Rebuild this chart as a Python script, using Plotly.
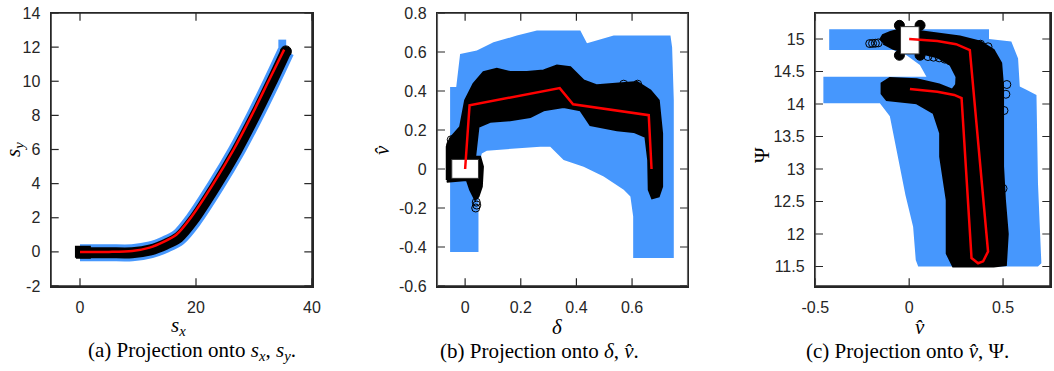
import plotly.graph_objects as go

W, H = 1054, 371
BLUE = "#4697fd"
RED = "#ff0000"
AX = "#262626"

# ---------------- Panel (a): s_x vs s_y ----------------
a_red_x = [0, 5, 9.0, 12.0, 14.5, 16.6, 19.1, 23.0, 26.5, 29.6, 32.5, 35.2]
a_red_y = [0, 0, 0.05, 0.25, 0.6, 1.0, 2.0, 4.0, 6.0, 8.0, 10.0, 11.85]
a_band_x = [0, 5, 9.0, 12.2, 14.8, 17.0, 19.5, 23.45, 26.95, 30.05, 32.95, 35.5]
a_band_y = [-0.05, -0.05, -0.05, 0.12, 0.45, 0.85, 1.85, 3.9, 5.9, 7.9, 9.9, 11.75]
a_start_x = [-0.7, 1.7, 1.7, -0.7, -0.7]
a_start_y = [-0.35, -0.35, 0.3, 0.3, -0.35]
a_end_x = [34.2, 35.55, 35.55, 34.2, 34.2]
a_end_y = [11.1, 11.1, 12.44, 12.44, 11.1]
a_xrange = [-5, 40]
a_yrange = [-2, 14]
a_xticks = [0, 20, 40]
a_yticks = [-2, 0, 2, 4, 6, 8, 10, 12, 14]

# ---------------- Panel (b): delta vs v-hat ----------------
b_blue_x = [-0.054, -0.054, -0.032, -0.018, 0.042, 0.102, 0.186, 0.258, 0.306, 0.414, 0.438,
            0.534, 0.738, 0.744, 0.75, 0.75, 0.604, 0.604, 0.594, 0.57, 0.498, 0.426, 0.354,
            0.306, 0.27, 0.078, 0.06, 0.048, 0.048]
b_blue_y = [-0.426, 0.42, 0.42, 0.59, 0.608, 0.65, 0.684, 0.71, 0.71, 0.71, 0.645,
            0.684, 0.684, 0.625, 0.352, -0.456, -0.456, -0.243, -0.141, -0.107, -0.039, 0.012, 0.046,
            0.114, 0.114, 0.094, 0.08, 0.012, -0.426]
b_black_x = [-0.066, -0.066, -0.054, -0.018, 0.0, 0.03, 0.066, 0.114, 0.162, 0.222, 0.282, 0.33,
             0.378, 0.426, 0.474, 0.546, 0.618, 0.666, 0.696, 0.708, 0.708, 0.696, 0.672, 0.66,
             0.658, 0.648, 0.606, 0.546, 0.45, 0.414, 0.354, 0.282, 0.234, 0.162, 0.09, 0.048,
             0.036, 0.054, 0.064, 0.06, 0.048, 0.036, 0.018, 0.006, -0.066]
b_black_y = [-0.056, 0.114, 0.157, 0.216, 0.352, 0.437, 0.497, 0.514, 0.497, 0.497, 0.505, 0.531,
             0.522, 0.454, 0.429, 0.437, 0.446, 0.403, 0.352, 0.182, -0.09, -0.141, -0.15, -0.107,
             0.046, 0.165, 0.19, 0.199, 0.225, 0.301, 0.318, 0.301, 0.267, 0.25, 0.242, 0.216,
             0.063, 0.063, 0.012, -0.09, -0.141, -0.158, -0.107, -0.056, -0.065]
b_circ_x = [-0.05, -0.052, -0.048, 0.04, 0.038, 0.042, 0.57, 0.62]
b_circ_y = [0.15, 0.125, 0.1, -0.17, -0.2, -0.185, 0.435, 0.435]
b_box_x = [-0.048, 0.048, 0.048, -0.048, -0.048]
b_box_y = [-0.048, -0.048, 0.049, 0.049, -0.048]
b_red_x = [0.0, 0.016, 0.34, 0.388, 0.66, 0.67]
b_red_y = [0.0, 0.327, 0.415, 0.332, 0.276, 0.0]
b_xrange = [-0.1, 0.8]
b_yrange = [-0.6, 0.8]
b_xticks = [0, 0.2, 0.4, 0.6]
b_yticks = [-0.6, -0.4, -0.2, 0, 0.2, 0.4, 0.6, 0.8]

# ---------------- Panel (c): v-hat vs Psi ----------------
c_blue_x = [-0.426, 0.425, 0.425, 0.544, 0.58, 0.589, 0.624, 0.678, 0.686, 0.704, 0.686,
            0.048, 0.035, 0.021, -0.02, -0.05, -0.08, -0.103, -0.156, -0.457, -0.457, 0.092,
            0.057, -0.014, -0.085, -0.426]
c_blue_y = [15.149, 15.149, 15.0, 14.96, 14.70, 14.27, 14.22, 14.14, 12.78, 11.55, 11.5,
            11.5, 11.6, 12.11, 12.6, 13.04, 13.5, 13.81, 14.01, 14.01, 14.42, 14.42,
            14.6, 14.75, 14.83, 14.83]
c_black_x = [-0.156, -0.14, -0.1, -0.06, 0.06, 0.13, 0.27, 0.38, 0.45, 0.49, 0.5, 0.5, 0.51,
             0.525, 0.515, 0.45, 0.234, 0.2, 0.2, 0.165, 0.165, 0.13, 0.04, -0.12, -0.147,
             -0.147, -0.103, 0.04, 0.16, 0.23, 0.25, 0.252, 0.22, 0.15, 0.09, -0.014, -0.085,
             -0.138]
c_black_y = [14.985, 15.06, 15.11, 15.14, 15.12, 15.09, 15.04, 14.96, 14.83, 14.63, 14.27,
             13.04, 12.52, 12.0, 11.52, 11.5, 11.5, 11.7, 12.52, 13.19, 13.55, 13.86, 14.01,
             14.06, 14.16, 14.32, 14.4, 14.38, 14.3, 14.22, 14.3, 14.42, 14.6, 14.72, 14.76,
             14.8, 14.85, 14.93]
c_circ_x = [-0.21, -0.195, -0.18, -0.165, 0.1, 0.13, 0.16, 0.19, 0.22, 0.52, 0.515, 0.505,
            0.5, 0.38, 0.42]
c_circ_y = [14.93, 14.932, 14.935, 14.94, 14.73, 14.72, 14.71, 14.69, 14.66, 14.3, 14.15,
            13.9, 12.7, 14.92, 14.88]
c_bump_x = [-0.052, 0.058, -0.052, 0.058]
c_bump_y = [15.21, 15.21, 14.75, 14.75]
c_box_x = [-0.046, 0.053, 0.053, -0.046, -0.046]
c_box_y = [14.77, 14.77, 15.19, 15.19, 14.77]
c_red_x = [0.0, 0.15, 0.25, 0.323, 0.42, 0.394, 0.367, 0.332, 0.279, 0.24, 0.15, 0.004]
c_red_y = [15.0, 14.97, 14.92, 14.83, 11.73, 11.58, 11.55, 11.63, 14.09, 14.14, 14.19, 14.23]
c_xrange = [-0.5, 0.75]
c_yrange = [11.2, 15.4]
c_xticks = [-0.5, 0, 0.5]
c_yticks = [11.5, 12, 12.5, 13, 13.5, 14, 14.5, 15]

fig = go.Figure()


def poly(x, y, color, xa, ya, lw=0, lc=None):
    fig.add_trace(go.Scatter(x=x, y=y, mode="lines", fill="toself", fillcolor=color,
                             line=dict(color=lc or color, width=lw), xaxis=xa, yaxis=ya,
                             hoverinfo="skip", showlegend=False))


def circles(x, y, xa, ya, filled=False, size=8):
    fig.add_trace(go.Scatter(x=x, y=y, mode="markers", xaxis=xa, yaxis=ya, showlegend=False,
                             hoverinfo="skip",
                             marker=dict(symbol="circle" if filled else "circle-open",
                                         size=size, color="black",
                                         line=dict(color="black", width=1))))


def path(x, y, xa, ya, color, width):
    fig.add_trace(go.Scatter(x=x, y=y, mode="lines", line=dict(color=color, width=width,
                                                                shape="spline", smoothing=0.8),
                             xaxis=xa, yaxis=ya, showlegend=False, hoverinfo="skip"))


def redline(x, y, xa, ya):
    fig.add_trace(go.Scatter(x=x, y=y, mode="lines", line=dict(color=RED, width=2.5),
                             xaxis=xa, yaxis=ya, showlegend=False, hoverinfo="skip"))


# panel a
poly(a_end_x, a_end_y, BLUE, "x", "y")
path(a_band_x, a_band_y, "x", "y", BLUE, 17)
path(a_band_x, a_band_y, "x", "y", "black", 11)
poly(a_start_x, a_start_y, "black", "x", "y", lw=2, lc="black")
circles(a_band_x[-1:], a_band_y[-1:], "x", "y", filled=True, size=11)
path(a_red_x, a_red_y, "x", "y", RED, 2.5)
# panel b
poly(b_blue_x, b_blue_y, BLUE, "x2", "y2")
poly(b_black_x, b_black_y, "black", "x2", "y2", lw=2, lc="black")
circles(b_circ_x, b_circ_y, "x2", "y2")
poly(b_box_x, b_box_y, "white", "x2", "y2", lw=1, lc="#333333")
redline(b_red_x, b_red_y, "x2", "y2")
# panel c
poly(c_blue_x, c_blue_y, BLUE, "x3", "y3")
poly(c_black_x, c_black_y, "black", "x3", "y3", lw=2, lc="black")
circles(c_circ_x, c_circ_y, "x3", "y3")
circles(c_bump_x, c_bump_y, "x3", "y3", filled=True, size=10)
poly(c_box_x, c_box_y, "white", "x3", "y3", lw=1, lc="#333333")
redline(c_red_x, c_red_y, "x3", "y3")


def px_x(p):
    return p / W


def px_y(p):
    return 1 - p / H


tickfont = dict(family="Liberation Sans, Arial, sans-serif", size=16, color=AX)


def axis(dom, rng, ticks, anchor):
    return dict(domain=dom, range=rng, tickvals=ticks, ticktext=[str(v) for v in ticks],
                showgrid=False, zeroline=False, showline=True, linecolor=AX, linewidth=1.5,
                mirror=True, ticks="", tickfont=tickfont, anchor=anchor, ticklabelstandoff=6,
                automargin=False, fixedrange=True)


def frame(xr, yr, xt, yt, xa, ya):
    # box around the axes (range corners), drawn as a trace
    fig.add_trace(go.Scatter(x=[xr[0], xr[1], xr[1], xr[0], xr[0]],
                             y=[yr[0], yr[0], yr[1], yr[1], yr[0]], mode="lines",
                             line=dict(color=AX, width=1.5), cliponaxis=False, xaxis=xa,
                             yaxis=ya, showlegend=False, hoverinfo="skip"))
    # inward tick marks on all four sides (outer half clipped away)
    tx = list(xt) * 2
    ty = [yr[0]] * len(xt) + [yr[1]] * len(xt)
    fig.add_trace(go.Scatter(x=tx, y=ty, mode="markers", cliponaxis=True, xaxis=xa, yaxis=ya,
                             marker=dict(symbol="line-ns", size=11, color=AX,
                                         line=dict(color=AX, width=1.2)),
                             showlegend=False, hoverinfo="skip"))
    lx = [xr[0]] * len(yt) + [xr[1]] * len(yt)
    ly = list(yt) * 2
    fig.add_trace(go.Scatter(x=lx, y=ly, mode="markers", cliponaxis=True, xaxis=xa, yaxis=ya,
                             marker=dict(symbol="line-ew", size=11, color=AX,
                                         line=dict(color=AX, width=1.2)),
                             showlegend=False, hoverinfo="skip"))


ydom = [px_y(286), px_y(13)]
panels = [
    ("x", "y", [51, 312], a_xrange, a_xticks, a_yrange, a_yticks),
    ("x2", "y2", [437.3, 687.7], b_xrange, b_xticks, b_yrange, b_yticks),
    ("x3", "y3", [815.3, 1050], c_xrange, c_xticks, c_yrange, c_yticks),
]
lay = {}
for xn, yn, xpx, xr, xt, yr, yt in panels:
    xdom = [px_x(xpx[0]), px_x(xpx[1])]
    lay["xaxis" + xn[1:]] = axis(xdom, xr, xt, yn)
    lay["yaxis" + yn[1:]] = axis(ydom, yr, yt, xn)
    frame(xr, yr, xt, yt, xn, yn)

fig.update_layout(width=W, height=H, margin=dict(l=0, r=0, t=0, b=0, autoexpand=False),
                  paper_bgcolor="white", plot_bgcolor="white", showlegend=False, **lay)

serif = "Liberation Serif, Times New Roman, serif"
ann = []


def label(text, x, y, size=21, angle=0):
    ann.append(dict(text=text, x=px_x(x), y=px_y(y), xref="paper", yref="paper",
                    showarrow=False, textangle=angle, xanchor="center", yanchor="middle",
                    font=dict(family=serif, size=size, color="black")))


# axis titles
label("<i>s<sub>x</sub></i>", 178, 326)
label("<i>s<sub>y</sub></i>", 14, 150, angle=-90)
label("<i>δ</i>", 557, 327)
label("<i>v̂</i>", 382, 150, angle=-90)
label("<i>v̂</i>", 920, 327)
label("Ψ", 762, 155, angle=-90)
# captions
label("(a) Projection onto <i>s<sub>x</sub></i>, <i>s<sub>y</sub></i>.", 192, 351)
label("(b) Projection onto <i>δ</i>, <i>v̂</i>.", 539, 351)
label("(c) Projection onto <i>v̂</i>, Ψ.", 907, 351)

fig.update_layout(annotations=ann)
fig.write_html("out.html", config={"displayModeBar": False, "staticPlot": True},
               post_script="document.body.style.margin='0';")
